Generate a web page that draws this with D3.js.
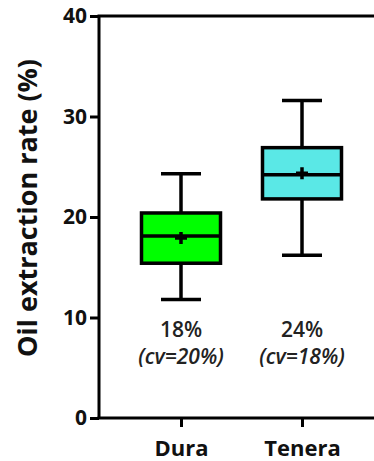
<!DOCTYPE html>
<html>
<head>
<meta charset="utf-8">
<script src="https://cdn.jsdelivr.net/npm/d3@7"></script>
<style>
  html, body { margin: 0; padding: 0; background: #fff; }
  svg { display: block; }
  text { font-family: "Open Sans", "DejaVu Sans", sans-serif; }
</style>
</head>
<body>
<svg id="chart" width="374" height="461"></svg>
<script>
// Oil extraction rate by fruit type (box-and-whisker summaries)
const groups   = ["Dura", "Tenera"];
const whiskLo  = [11.8, 16.2];
const q1       = [15.4, 21.8];
const medians  = [18.1, 24.2];
const q3       = [20.4, 26.9];
const whiskHi  = [24.3, 31.6];
const means    = [17.9, 24.35];
const fills    = ["#00ff00", "#5ae8e6"];
const meanLbl  = ["18%", "24%"];
const cvLbl    = ["(cv=20%)", "(cv=18%)"];
const yTicks   = [0, 10, 20, 30, 40];

const svg = d3.select("#chart");
const margin = { left: 99, right: 0, top: 16, bottom: 43 };
const W = 374, H = 461;

const y = d3.scaleLinear().domain([0, 40]).range([H - margin.bottom, margin.top]);
const x = d3.scalePoint().domain(groups).range([181, 302]);

const boxW = 79, capW = 40;

// axes
const yAxis = d3.axisLeft(y).tickValues(yTicks).tickSize(9).tickPadding(3);
const gy = svg.append("g").attr("transform", `translate(${margin.left},0)`).call(yAxis);
gy.select(".domain").attr("stroke", "#000").attr("stroke-width", 3).attr("d", `M0,${y(40)}V${y(0)}`);
gy.selectAll(".tick line").attr("stroke", "#000").attr("stroke-width", 3);
gy.selectAll(".tick text")
  .attr("fill", "#111")
  .style("font-size", "21px")
  .style("font-weight", "700");

const xAxis = d3.axisBottom(x).tickSize(9).tickPadding(13);
const gx = svg.append("g").attr("transform", `translate(0,${y(0)})`).call(xAxis);
gx.select(".domain").attr("stroke", "#000").attr("stroke-width", 3).attr("d", `M${margin.left - 1.5},0H${W}`);
gx.selectAll(".tick line").attr("stroke", "#000").attr("stroke-width", 3);
gx.selectAll(".tick text")
  .attr("fill", "#111")
  .style("font-size", "22px")
  .style("font-weight", "700");

// top frame line
svg.append("line")
  .attr("x1", margin.left - 1.5).attr("x2", W)
  .attr("y1", y(40)).attr("y2", y(40))
  .attr("stroke", "#000").attr("stroke-width", 3);

// y-axis title
svg.append("text")
  .attr("transform", `translate(37,208) rotate(-90)`)
  .attr("text-anchor", "middle")
  .attr("fill", "#111")
  .style("font-size", "27px")
  .style("font-weight", "700")
  .text("Oil extraction rate (%)");

// boxes
const boxes = svg.append("g").selectAll("g").data(groups).join("g");

boxes.append("line")
  .attr("x1", d => x(d)).attr("x2", d => x(d))
  .attr("y1", (d, i) => y(whiskHi[i])).attr("y2", (d, i) => y(q3[i]))
  .attr("stroke", "#000").attr("stroke-width", 3.5);
boxes.append("line")
  .attr("x1", d => x(d)).attr("x2", d => x(d))
  .attr("y1", (d, i) => y(q1[i])).attr("y2", (d, i) => y(whiskLo[i]))
  .attr("stroke", "#000").attr("stroke-width", 3.5);
[whiskHi, whiskLo].forEach(arr => {
  boxes.append("line")
    .attr("x1", d => x(d) - capW / 2).attr("x2", d => x(d) + capW / 2)
    .attr("y1", (d, i) => y(arr[i])).attr("y2", (d, i) => y(arr[i]))
    .attr("stroke", "#000").attr("stroke-width", 3.5);
});
boxes.append("rect")
  .attr("x", d => x(d) - boxW / 2)
  .attr("width", boxW)
  .attr("y", (d, i) => y(q3[i]))
  .attr("height", (d, i) => y(q1[i]) - y(q3[i]))
  .attr("fill", (d, i) => fills[i])
  .attr("stroke", "#000").attr("stroke-width", 3.5);
boxes.append("line")
  .attr("x1", d => x(d) - boxW / 2).attr("x2", d => x(d) + boxW / 2)
  .attr("y1", (d, i) => y(medians[i])).attr("y2", (d, i) => y(medians[i]))
  .attr("stroke", "#000").attr("stroke-width", 3.5);
// mean markers
boxes.append("path")
  .attr("d", (d, i) => {
    const cx = x(d), cy = y(means[i]);
    return `M${cx - 6},${cy}H${cx + 6}M${cx},${cy - 6}V${cy + 6}`;
  })
  .attr("stroke", "#000").attr("stroke-width", 3.5);

// annotations
boxes.append("text")
  .attr("x", d => x(d)).attr("y", 337)
  .attr("text-anchor", "middle")
  .attr("fill", "#222")
  .style("font-size", "21px")
  .style("font-weight", "600")
  .text((d, i) => meanLbl[i]);
boxes.append("text")
  .attr("x", d => x(d)).attr("y", 364)
  .attr("text-anchor", "middle")
  .attr("fill", "#222")
  .style("font-size", "21px")
  .style("font-weight", "600")
  .style("font-style", "italic")
  .text((d, i) => cvLbl[i]);
</script>
</body>
</html>
